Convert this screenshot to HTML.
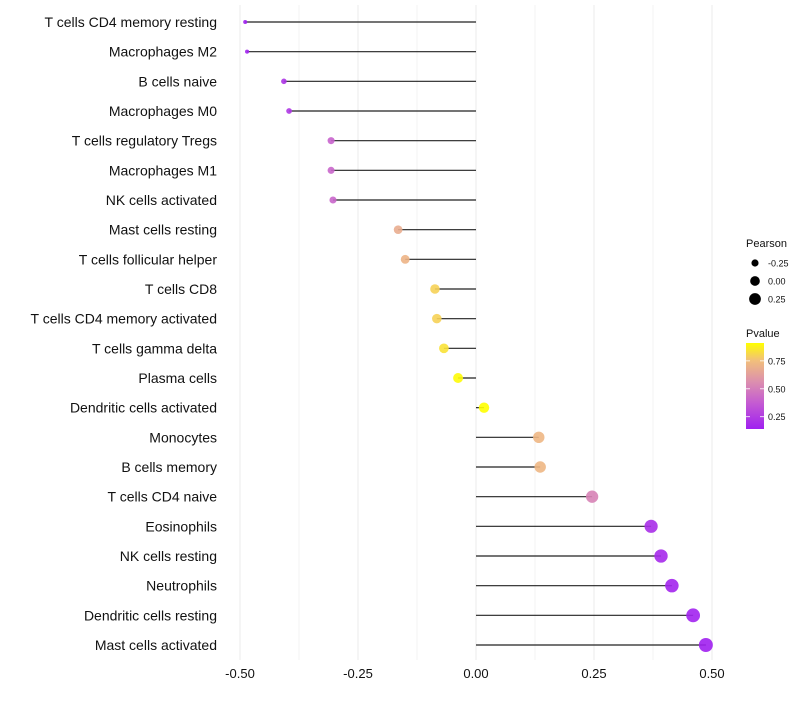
<!DOCTYPE html>
<html><head><meta charset="utf-8"><style>
body{margin:0;background:#fff;font-family:"Liberation Sans",sans-serif;}
svg text{font-family:"Liberation Sans",sans-serif;}
</style></head><body>
<svg id="chart" width="800" height="700" xmlns="http://www.w3.org/2000/svg">
<defs><linearGradient id="pg" x1="0" y1="1" x2="0" y2="0">
<stop offset="0" stop-color="#A020F0"/><stop offset="0.3" stop-color="#C45BD2"/>
<stop offset="0.55" stop-color="#DC8FAE"/><stop offset="0.8" stop-color="#F2C07A"/>
<stop offset="1" stop-color="#FFFF00"/></linearGradient></defs>
<g id="grid"></g><g id="marks"></g><g id="labels"></g><g id="legend"></g>
</svg>
<script>
const categories=["T cells CD4 memory resting","Macrophages M2","B cells naive","Macrophages M0","T cells regulatory  Tregs ","Macrophages M1","NK cells activated","Mast cells resting","T cells follicular helper","T cells CD8","T cells CD4 memory activated","T cells gamma delta","Plasma cells","Dendritic cells activated","Monocytes","B cells memory","T cells CD4 naive","Eosinophils","NK cells resting","Neutrophils","Dendritic cells resting","Mast cells activated"];
const pearson=[-0.489,-0.485,-0.407,-0.396,-0.307,-0.307,-0.303,-0.165,-0.150,-0.087,-0.083,-0.068,-0.038,0.017,0.133,0.136,0.246,0.371,0.392,0.415,0.460,0.487];
const pvalue=[0.14,0.15,0.22,0.23,0.40,0.41,0.41,0.68,0.71,0.80,0.80,0.84,0.90,0.91,0.72,0.72,0.52,0.20,0.18,0.16,0.15,0.14];
const xTicks=[-0.5,-0.25,0,0.25,0.5];
const xTickLabels=["-0.50","-0.25","0.00","0.25","0.50"];
const sizeLegend=[-0.25,0,0.25];
const sizeLegendLabels=["-0.25","0.00","0.25"];
const pTicks=[0.25,0.5,0.75];
const pTickLabels=["0.25","0.50","0.75"];

const NS="http://www.w3.org/2000/svg";
const x=v=>476+v*472;
const y=i=>22+i*(623/21);
const r=v=>Math.sqrt(Math.max(1,26.5+45.9*v));
const pmin=Math.min(...pvalue),pmax=Math.max(...pvalue);
const stops=[[0,[160,32,240]],[0.3,[196,91,210]],[0.55,[220,143,174]],[0.8,[242,192,122]],[1,[255,255,0]]];
function col(p){let t=(p-pmin)/(pmax-pmin);t=Math.max(0,Math.min(1,t));
 for(let k=1;k<stops.length;k++){if(t<=stops[k][0]){const a=stops[k-1],b=stops[k];const f=(t-a[0])/(b[0]-a[0]);
 return "rgb("+a[1].map((c,j)=>Math.round(c+(b[1][j]-c)*f)).join(",")+")";}}return "rgb(255,255,0)";}
function mk(tag,attrs,parent,txt){const e=document.createElementNS(NS,tag);for(const k in attrs)e.setAttribute(k,attrs[k]);if(txt!==undefined)e.textContent=txt;parent.appendChild(e);return e;}
const grid=document.getElementById('grid'),marks=document.getElementById('marks'),labels=document.getElementById('labels'),legend=document.getElementById('legend');
for(let v=-0.5;v<=0.5001;v+=0.125){const g=mk('line',{x1:x(v),x2:x(v),y1:5,y2:660,stroke:'#ebebeb','stroke-width':(Math.abs((v*4)%1)<1e-6)?1:0.6},grid);

}
xTicks.forEach((v,i)=>{const t=mk('text',{x:x(v),y:678,'text-anchor':'middle','font-size':13,fill:'#111'},labels,xTickLabels[i]);

});
categories.forEach((c,i)=>{
 const t=mk('text',{x:217,y:y(i)+5,'text-anchor':'end','font-size':14,fill:'#111'},labels,c);
 
 
 const s=mk('line',{x1:x(0),x2:x(pearson[i]),y1:y(i),y2:y(i),stroke:'#222','stroke-width':1.2},marks);
 
 
 const d=mk('circle',{cx:x(pearson[i]),cy:y(i),r:r(pearson[i]),fill:col(pvalue[i]),'fill-opacity':0.9},marks);
 
 
});
const lt=mk('text',{x:746,y:247,'font-size':11,fill:'#111'},legend,'Pearson');


sizeLegend.forEach((v,i)=>{const cy=263+i*18;
 const c=mk('circle',{cx:755,cy:cy,r:r(v)-0.3,fill:'#000'},legend);
 
 
 const t=mk('text',{x:768,y:cy+3.5,'font-size':9,fill:'#111'},legend,sizeLegendLabels[i]);
 
 });
const pt=mk('text',{x:746,y:337,'font-size':11,fill:'#111'},legend,'Pvalue');


const bar=mk('rect',{x:746,y:343,width:18,height:86,fill:'url(#pg)'},legend);


const by=p=>429-(p-pmin)/(pmax-pmin)*86;
pTicks.forEach((p,i)=>{
 const l=mk('line',{x1:746,x2:750,y1:by(p),y2:by(p),stroke:'#fff','stroke-width':0.8},legend);
 
 
 const l2=mk('line',{x1:760,x2:764,y1:by(p),y2:by(p),stroke:'#fff','stroke-width':0.8},legend);
 
 
 const t=mk('text',{x:768,y:by(p)+3.5,'font-size':9,fill:'#111'},legend,pTickLabels[i]);
 
 });
</script>
</body></html>
